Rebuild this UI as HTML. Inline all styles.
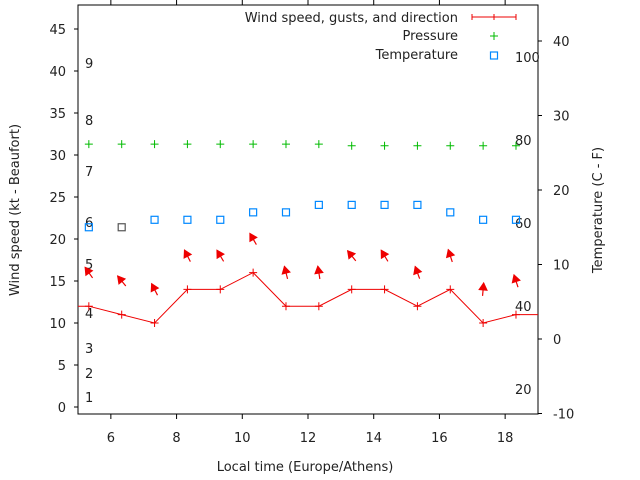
<!DOCTYPE html>
<html><head><meta charset="utf-8"><style>
body{margin:0;background:#fff}
svg{display:block;font-family:"DejaVu Sans","Liberation Sans",sans-serif;font-size:13px;fill:#222}
</style></head><body>
<svg id="chart" width="640" height="480" viewBox="0 0 640 480">
<g id="axes"></g><g id="marks"></g>
</svg>
<script>
const hours=[5.33,6.33,7.33,8.33,9.33,10.33,11.33,12.33,13.33,14.33,15.33,16.33,17.33,18.33];
const windSpeed=[12,11,10,14,14,16,12,12,14,14,12,14,10,11];
const gusts=[16,15,14,18,18,20,16,16,18,18,16,18,14,15];
const windDir=[145,141,153,153,149,150,166,171,141,149,160,162,185,162];
const pressure=[31.3,31.3,31.3,31.3,31.3,31.3,31.3,31.3,31.1,31.1,31.1,31.1,31.1,31.1];
const temperature=[15,15,16,16,16,17,17,18,18,18,18,17,16,16];
const xTicks=[6,8,10,12,14,16,18];
const yTicks=[0,5,10,15,20,25,30,35,40,45];
const y2Ticks=[-10,0,10,20,30,40];
const beaufort=[[1,397],[2,373],[3,348],[4,313],[5,264],[6,222],[7,171],[8,120],[9,63]];
const fahr=[[20,389],[40,306],[60,223],[80,140],[100,57]];

const L=78,R=538,T=5,B=414;
const X=v=>L+(v-5)*(R-L)/14;
const Y=v=>407-v*8.4;
const Y2=v=>339-v*7.45;
const NS="http://www.w3.org/2000/svg";
const ax=document.getElementById('axes'),mk=document.getElementById('marks');
function el(p,tag,a,txt){const e=document.createElementNS(NS,tag);for(const k in a)e.setAttribute(k,a[k]);if(txt!==undefined)e.textContent=txt;p.appendChild(e);return e;}

const frame=el(ax,'rect',{x:L,y:T,width:R-L,height:B-T,fill:'none',stroke:'#000','stroke-width':1});


xTicks.forEach(v=>{
  const t=el(ax,'path',{d:`M${X(v)},${B}v5M${X(v)},${T}v-5`,stroke:'#000'});
  
  
  const l=el(ax,'text',{x:X(v),y:442,'text-anchor':'middle'},v);
  
  
});
yTicks.forEach(v=>{
  const t=el(ax,'path',{d:`M${L},${Y(v)}h-4`,stroke:'#000'});
  
  
  const l=el(ax,'text',{x:66,y:Y(v)+5,'text-anchor':'end'},v);
  
  
});
y2Ticks.forEach(v=>{
  const t=el(ax,'path',{d:`M${R},${Y2(v)}h4`,stroke:'#000'});
  
  
  const l=el(ax,'text',{x:553,y:Y2(v)+5},v);
  
  
});
beaufort.forEach(b=>{
  const l=el(ax,'text',{x:85,y:b[1]+5},b[0]);
  
  
});
fahr.forEach(b=>{
  const l=el(ax,'text',{x:515,y:b[1]+5},b[0]);
  
  
});
let t=el(ax,'text',{x:305,y:471,'text-anchor':'middle'},'Local time (Europe/Athens)');


t=el(ax,'text',{x:0,y:0,'text-anchor':'middle',transform:'translate(19,210) rotate(-90)'},'Wind speed (kt - Beaufort)');


t=el(ax,'text',{x:0,y:0,'text-anchor':'middle',transform:'translate(602,210) rotate(-90)'},'Temperature (C - F)');



let d=`M${L},${Y(windSpeed[0])}`;
hours.forEach((h,i)=>d+=`L${X(h)},${Y(windSpeed[i])}`);
d+=`L${R},${Y(windSpeed[windSpeed.length-1])}`;
const wl=el(mk,'path',{d:d,fill:'none',stroke:'#e00','stroke-width':1});


function plus(x,y,c,name){const p=el(mk,'path',{d:`M${x-4},${y}h8M${x},${y-4}v8`,stroke:c,'stroke-width':1});return p;}
hours.forEach((h,i)=>plus(X(h),Y(windSpeed[i]),'#e00','wind-point'));
hours.forEach((h,i)=>{
  const a=(windDir[i]+180)*Math.PI/180, cx=X(h), cy=Y(gusts[i]);
  const dx=Math.sin(a)*6.5, dy=-Math.cos(a)*6.5;
  const hx=cx+dx,hy=cy+dy,tx=cx-dx,ty=cy-dy;
  const ux=dx/6.5,uy=dy/6.5;
  const bx=hx-ux*7,by=hy-uy*7;
  const g=el(mk,'g',{});
  
  
  el(g,'line',{x1:tx,y1:ty,x2:hx,y2:hy,stroke:'#e00','stroke-width':1.2});
  el(g,'polygon',{points:`${hx},${hy} ${bx-uy*4},${by+ux*4} ${bx+uy*4},${by-ux*4}`,fill:'#e00',stroke:'#e00','stroke-width':1});
});
hours.forEach((h,i)=>plus(X(h),Y(pressure[i]),'#0b0','pressure-point'));
hours.forEach((h,i)=>{
  const r=el(mk,'rect',{x:X(h)-3.5,y:Y2(temperature[i])-3.5,width:7,height:7,fill:'none',stroke:i==1?'#555':'#08f','stroke-width':1.2});
  
  
});
const lg=el(mk,'g',{});


el(lg,'text',{x:458,y:22,'text-anchor':'end'},'Wind speed, gusts, and direction');
el(lg,'text',{x:458,y:40,'text-anchor':'end'},'Pressure');
el(lg,'text',{x:458,y:59,'text-anchor':'end'},'Temperature');
el(lg,'path',{d:'M472,17h44M472,14v6M494,14v6M516,14v6',stroke:'#e00'});
el(lg,'path',{d:'M490,36h8M494,32v8',stroke:'#0b0'});
el(lg,'rect',{x:490.5,y:52,width:7,height:7,fill:'none',stroke:'#08f','stroke-width':1.2});
</script>
</body></html>
